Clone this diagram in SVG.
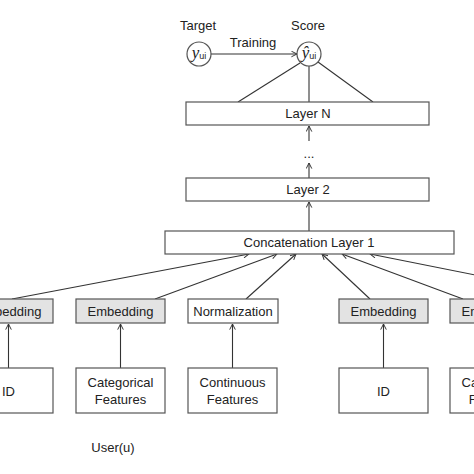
<svg xmlns="http://www.w3.org/2000/svg" width="474" height="474" viewBox="0 0 474 474">
<defs>
<marker id="ah" viewBox="0 0 10 10" refX="9" refY="5" markerWidth="7" markerHeight="7" orient="auto" markerUnits="userSpaceOnUse">
<polyline points="1,1 9,5 1,9" fill="none" stroke="#333" stroke-width="1.4"/>
</marker>
<style>
.box{fill:#fff;stroke:#555;stroke-width:1.2}
.emb{fill:#e3e3e3;stroke:#555;stroke-width:1.2}
.t{font-family:"Liberation Sans",Arial,sans-serif;font-size:13px;fill:#222;text-anchor:middle}
.ln{stroke:#333;stroke-width:1.1;fill:none}
.ar{stroke:#333;stroke-width:1.1;fill:none;marker-end:url(#ah)}
</style>
</defs>
<rect width="474" height="474" fill="#fff"/>
<g id="connectors">
<line class="ar" x1="211" y1="54" x2="297" y2="54"/>
<line class="ln" x1="300" y1="63" x2="238" y2="102"/>
<line class="ln" x1="309" y1="66" x2="309" y2="102"/>
<line class="ln" x1="318" y1="62" x2="373" y2="102"/>
<line class="ar" x1="309" y1="141" x2="309" y2="126"/>
<line class="ar" x1="309" y1="178" x2="309" y2="163"/>
<line class="ar" x1="309" y1="231" x2="309" y2="202"/>
<line class="ar" x1="12" y1="299" x2="249" y2="254"/>
<line class="ar" x1="155" y1="299" x2="277" y2="254"/>
<line class="ar" x1="246" y1="299" x2="296" y2="254"/>
<line class="ar" x1="370" y1="299" x2="322" y2="254"/>
<line class="ar" x1="463" y1="299" x2="342" y2="254"/>
<line class="ar" x1="490" y1="278" x2="370" y2="254"/>
<line class="ar" x1="8.5" y1="368" x2="8.5" y2="324"/>
<line class="ar" x1="120.5" y1="368" x2="120.5" y2="324"/>
<line class="ar" x1="232.5" y1="368" x2="232.5" y2="324"/>
<line class="ar" x1="383.5" y1="368" x2="383.5" y2="324"/>
<line class="ar" x1="494.5" y1="368" x2="494.5" y2="324"/>
</g>
<g id="target">
<text class="t" x="198" y="30">Target</text>
<circle cx="199" cy="54" r="12" class="box"/>
<text x="199" y="58" text-anchor="middle" fill="#222"><tspan font-family="Liberation Serif,serif" font-style="italic" font-size="17">y</tspan><tspan font-family="Liberation Sans,sans-serif" font-size="9" dy="1">ui</tspan></text>
</g>
<text class="t" x="253" y="47">Training</text>
<g id="score">
<text class="t" x="308" y="30">Score</text>
<circle cx="309" cy="54" r="12" class="box"/>
<text x="309" y="58" text-anchor="middle" fill="#222"><tspan font-family="Liberation Serif,serif" font-style="italic" font-size="17">ŷ</tspan><tspan font-family="Liberation Sans,sans-serif" font-size="9" dy="1">ui</tspan></text>
</g>
<g id="layerN"><rect class="box" x="186" y="102" width="243" height="23"/><text class="t" x="308" y="118">Layer N</text></g>
<text class="t" x="309" y="158">...</text>
<g id="layer2"><rect class="box" x="186" y="178" width="243" height="23"/><text class="t" x="308" y="194">Layer 2</text></g>
<g id="concat"><rect class="box" x="165" y="231" width="289" height="23"/><text class="t" x="309" y="247">Concatenation Layer 1</text></g>
<g id="emb1"><rect class="emb" x="-36" y="299" width="89" height="24"/><text class="t" x="8.5" y="316">Embedding</text></g>
<g id="emb2"><rect class="emb" x="76" y="299" width="89" height="24"/><text class="t" x="120.5" y="316">Embedding</text></g>
<g id="norm"><rect class="box" x="188" y="299" width="90" height="24"/><text class="t" x="233" y="316">Normalization</text></g>
<g id="emb3"><rect class="emb" x="339" y="299" width="89" height="24"/><text class="t" x="383.5" y="316">Embedding</text></g>
<g id="emb4"><rect class="emb" x="450" y="299" width="89" height="24"/><text class="t" x="494.5" y="316">Embedding</text></g>
<g id="id1"><rect class="box" x="-36" y="368" width="89" height="45"/><text class="t" x="8.5" y="396">ID</text></g>
<g id="cat1"><rect class="box" x="76" y="368" width="89" height="45"/><text class="t" x="120.5" y="387">Categorical</text><text class="t" x="120.5" y="404">Features</text></g>
<g id="cont"><rect class="box" x="188" y="368" width="89" height="45"/><text class="t" x="232.5" y="387">Continuous</text><text class="t" x="232.5" y="404">Features</text></g>
<g id="id2"><rect class="box" x="339" y="368" width="89" height="45"/><text class="t" x="383.5" y="396">ID</text></g>
<g id="cat2"><rect class="box" x="450" y="368" width="89" height="45"/><text class="t" x="494.5" y="387">Categorical</text><text class="t" x="494.5" y="404">Features</text></g>
<text class="t" x="113" y="452">User(u)</text>
</svg>
